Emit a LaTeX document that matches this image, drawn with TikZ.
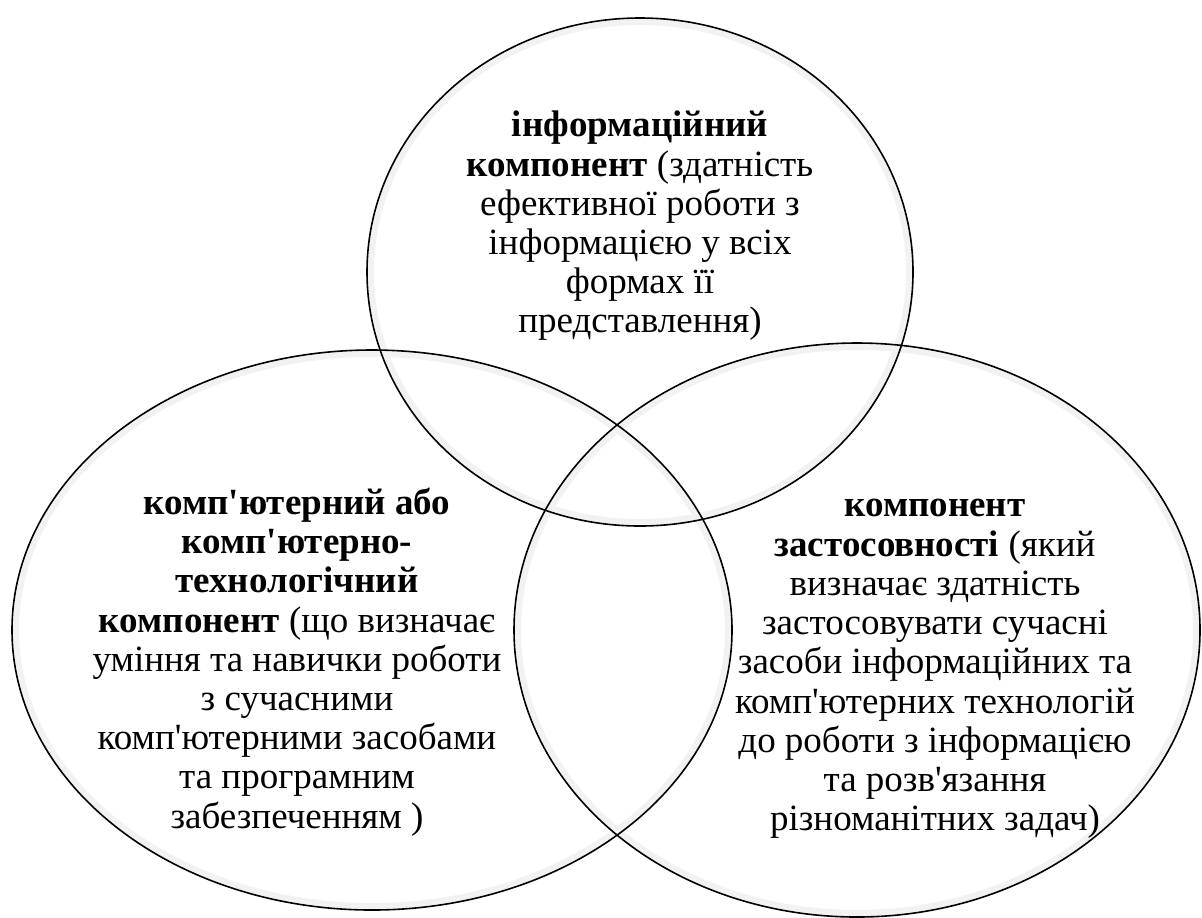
\documentclass[tikz,border=0pt]{standalone}
\usepackage{fontspec}
\setmainfont{Liberation Serif}[Ligatures=TeXOff]
\begin{document}
\begin{tikzpicture}[x=0.5pt, y=-0.5pt,
                    venn/.style = {draw = black,
                                   line width = 0.8pt},
                    vglow/.style = {draw = black!5,
                                    line width = 3pt},
                    ctext/.style = {align = center,
                                    inner sep = 0pt,
                                    font = \fontsize{18.5}{19.6}\selectfont}]
		\useasboundingbox (0,0) rectangle (1202,917);
		% three sets
		\foreach \cx/\cy/\rx/\ry in {640/272/273/254, 372/630/360/280, 857/630/343/287}{
			\draw[vglow] (\cx,\cy) ellipse [x radius=\rx-4, y radius=\ry-4];
		}
		\draw[venn] (640,272) ellipse [x radius=273, y radius=254];
		\draw[venn] (372,630) ellipse [x radius=360, y radius=280];
		\draw[venn] (857,630) ellipse [x radius=343, y radius=287];
		% labels
		\node[ctext] (info) at (640,226) {\textbf{інформаційний}\\
			\textbf{компонент} (здатність\\
			ефективної роботи з\\
			інформацією у всіх\\
			формах її\\
			представлення)};
		\node[ctext] (comp) at (297,662) {\textbf{комп'ютерний або}\\
			\textbf{комп'ютерно-}\\
			\textbf{технологічний}\\
			\textbf{компонент} (що визначає\\
			уміння та навички роботи\\
			з сучасними\\
			комп'ютерними засобами\\
			та програмним\\
			забезпеченням )};
		\node[ctext] (appl) at (935,669) {\textbf{компонент}\\
			\textbf{застосовності} (який\\
			визначає здатність\\
			застосовувати сучасні\\
			засоби інформаційних та\\
			комп'ютерних технологій\\
			до роботи з інформацією\\
			та розв'язання\\
			різноманітних задач)};
	\end{tikzpicture}
\end{document}
